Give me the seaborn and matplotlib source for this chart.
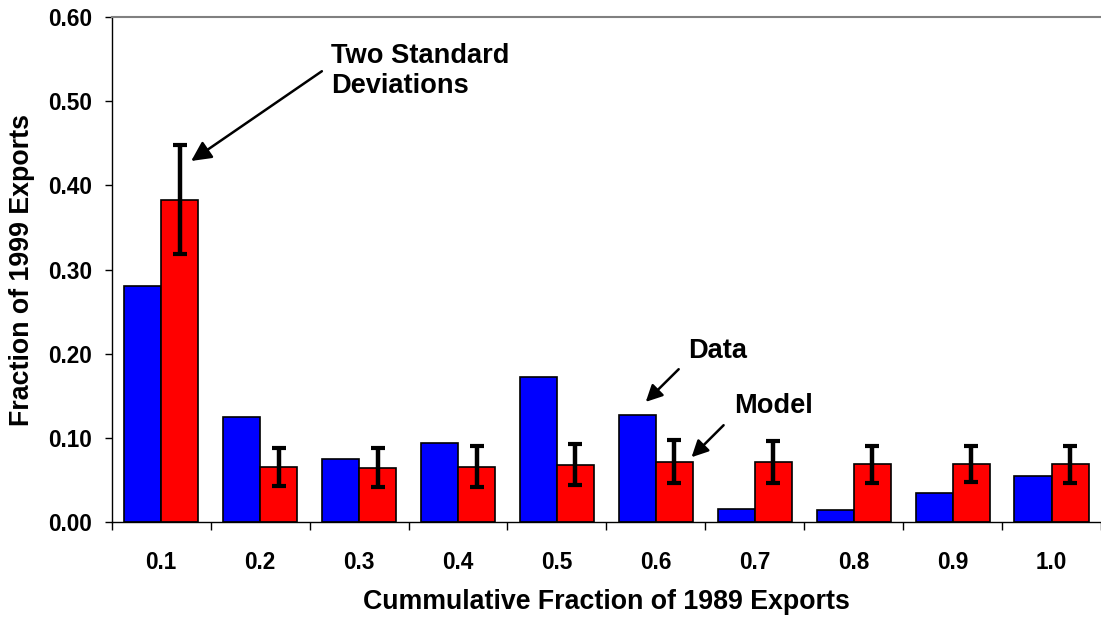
import matplotlib
matplotlib.use("Agg")
import matplotlib.pyplot as plt
import seaborn as sns
import pandas as pd
from matplotlib.ticker import FixedLocator, FormatStrFormatter

# Datos
categorias = ["0.1", "0.2", "0.3", "0.4", "0.5", "0.6", "0.7", "0.8", "0.9", "1.0"]
datos = [0.281, 0.125, 0.075, 0.094, 0.173, 0.127, 0.016, 0.015, 0.035, 0.055]
modelo = [0.383, 0.065, 0.064, 0.066, 0.068, 0.071, 0.071, 0.069, 0.069, 0.069]
modelo_sup = [0.448, 0.088, 0.088, 0.090, 0.093, 0.098, 0.096, 0.091, 0.090, 0.090]
modelo_inf = [0.319, 0.043, 0.042, 0.042, 0.044, 0.046, 0.047, 0.047, 0.048, 0.047]
series = ["Data", "Model"]

df = pd.DataFrame({
    "Fraccion": categorias * 2,
    "Valor": datos + modelo,
    "Serie": [series[0]] * len(categorias) + [series[1]] * len(categorias),
})

# Configuración general
sns.set_style("ticks")
plt.rcParams["font.family"] = ["Liberation Sans", "DejaVu Sans"]
plt.rcParams["font.weight"] = "bold"
plt.rcParams["axes.labelweight"] = "bold"
for clave in ["text.color", "axes.labelcolor", "xtick.color", "ytick.color"]:
    plt.rcParams[clave] = "black"

fig = plt.figure(figsize=(11.01, 6.18), dpi=100)
ax = fig.add_axes([0.1015, 0.155, 0.8985, 0.8175])

sns.barplot(data=df, x="Fraccion", y="Valor", hue="Serie",
            palette={"Data": "#0000FF", "Model": "#FF0000"},
            width=0.75, saturation=1, edgecolor="black", linewidth=1.2,
            errorbar=None, legend=False, ax=ax)

# Barras de error sobre las barras del modelo
xs = [p.get_x() + p.get_width() / 2 for p in ax.containers[1]]
err_bajo = [m - lo for m, lo in zip(modelo, modelo_inf)]
err_alto = [hi - m for m, hi in zip(modelo, modelo_sup)]
ax.errorbar(xs, modelo, yerr=[err_bajo, err_alto], fmt="none", ecolor="black",
            elinewidth=3.2, capsize=4.7, capthick=3, zorder=5)

ax.set_xlim(-0.5, len(categorias) - 0.5)
ax.set_ylim(0, 0.6)
ax.yaxis.set_major_locator(FixedLocator([0, 0.1, 0.2, 0.3, 0.4, 0.5, 0.6]))
ax.yaxis.set_major_formatter(FormatStrFormatter("%.2f"))
ax.xaxis.set_minor_locator(FixedLocator([i - 0.5 for i in range(len(categorias) + 1)]))
ax.tick_params(axis="x", which="major", length=0, pad=21, labelsize=16.3)
ax.tick_params(axis="x", which="minor", length=6, width=1, color="black")
ax.tick_params(axis="y", length=5, width=1, color="black", pad=9, labelsize=16.3)

for lado in ["left", "bottom"]:
    ax.spines[lado].set_color("black")
    ax.spines[lado].set_linewidth(1)
ax.spines["top"].set_color("#808080")
ax.spines["top"].set_linewidth(1.5)
ax.spines["right"].set_visible(False)

ax.set_xlabel("Cummulative Fraction of 1989 Exports", fontsize=19.3, va="center")
ax.set_ylabel("Fraction of 1999 Exports", fontsize=19.3, va="center")
ax.xaxis.set_label_coords(0.5, -0.158)
ax.yaxis.set_label_coords(-0.0905, 0.5)

# Anotaciones
flecha = dict(arrowstyle="-|>", color="black", lw=1.8, shrinkA=0, shrinkB=0)
ax.text(1.715, 0.5690, "Two Standard\nDeviations", fontsize=19.6, va="top",
        ha="left", linespacing=1.22)
ax.annotate("", xy=(0.303, 0.429), xytext=(1.624, 0.5356),
            arrowprops=dict(flecha, mutation_scale=30))
ax.text(5.33, 0.2185, "Data", fontsize=19.6, va="top", ha="left")
ax.annotate("", xy=(4.898, 0.1429), xytext=(5.231, 0.1817),
            arrowprops=dict(flecha, mutation_scale=25))
ax.text(5.79, 0.1532, "Model", fontsize=19.6, va="top", ha="left")
ax.annotate("", xy=(5.361, 0.0772), xytext=(5.685, 0.1152),
            arrowprops=dict(flecha, mutation_scale=25))

plt.savefig("out.png", dpi=100)
plt.close()
